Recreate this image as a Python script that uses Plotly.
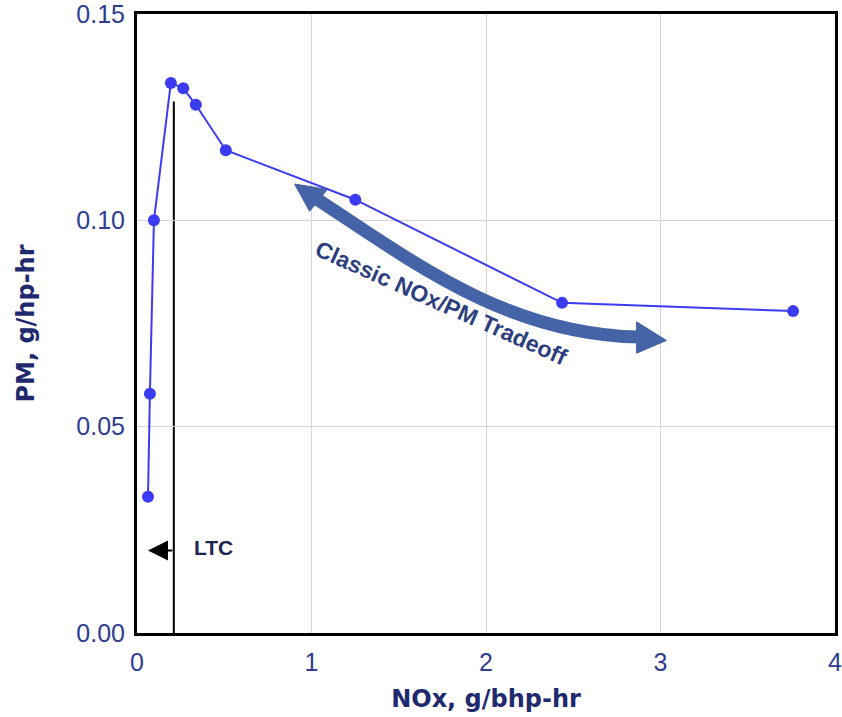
import plotly.graph_objects as go

# Measured NOx / PM points
nox = [0.063, 0.074, 0.097, 0.194, 0.265, 0.337, 0.509, 1.251, 2.436, 3.76]
pm = [0.033, 0.058, 0.100, 0.1333, 0.132, 0.128, 0.117, 0.105, 0.080, 0.078]

x_ticks = [0, 1, 2, 3, 4]
y_ticks = [0.00, 0.05, 0.10, 0.15]
y_tick_text = ["0.00", "0.05", "0.10", "0.15"]

# LTC boundary
ltc_x = 0.211
ltc_top = 0.1288
ltc_arrow_y = 0.0200
ltc_arrow_tip = 0.063

# Tradeoff arrow: cubic body (start, control 1, control 2, end) and two heads
body = [(1.0014, 0.1060), (1.619, 0.0887), (2.134, 0.0724), (2.878, 0.0717)]
head_left = [(0.903, 0.1088), (0.989, 0.1022), (1.091, 0.1075)]
head_right = [(3.034, 0.0709), (2.863, 0.0754), (2.863, 0.0678)]

AXIS_BLUE = "#2F3C8F"
TITLE_NAVY = "#1F2A6E"
LINE_BLUE = "#3B3BF2"
ARROW_BLUE = "#4564A8"

fig = go.Figure()
fig.add_trace(go.Scatter(
    x=nox, y=pm, mode="lines+markers",
    line=dict(color=LINE_BLUE, width=2),
    marker=dict(color=LINE_BLUE, size=12),
    showlegend=False, cliponaxis=False,
))

# LTC vertical line
fig.add_shape(type="line", x0=ltc_x, x1=ltc_x, y0=0, y1=ltc_top,
              line=dict(color="black", width=2), layer="below")

fig.add_annotation(x=ltc_arrow_tip, y=ltc_arrow_y, ax=ltc_x, ay=ltc_arrow_y,
                   xref="x", yref="y", axref="x", ayref="y", text="",
                   showarrow=True, arrowhead=2, arrowsize=2, arrowwidth=2,
                   arrowcolor="black")
fig.add_annotation(x=ltc_x + 0.105, y=ltc_arrow_y + 0.0008, xref="x", yref="y",
                   text="<b>LTC</b>", showarrow=False, xanchor="left",
                   font=dict(family="Liberation Sans", size=21, color="#1E2450"))

# Curved tradeoff arrow
p = body
path = (f"M {p[0][0]},{p[0][1]} "
        f"C {p[1][0]},{p[1][1]} {p[2][0]},{p[2][1]} {p[3][0]},{p[3][1]}")
fig.add_shape(type="path", path=path, line=dict(color=ARROW_BLUE, width=13))


def tri(pts):
    return "M " + " L ".join(f"{a},{b}" for a, b in pts) + " Z"


for h in (head_left, head_right):
    fig.add_shape(type="path", path=tri(h), fillcolor=ARROW_BLUE,
                  line=dict(color=ARROW_BLUE, width=1))

fig.add_annotation(x=1.745, y=0.0800, xref="x", yref="y",
                   text="<b>Classic NOx/PM Tradeoff</b>", showarrow=False,
                   textangle=24,
                   font=dict(family="Liberation Sans", size=23, color="#2E3F80"))

fig.update_layout(
    width=842, height=717,
    margin=dict(l=137, r=0, t=14, b=84),
    paper_bgcolor="white", plot_bgcolor="white",
    font=dict(family="Liberation Sans"),
    xaxis=dict(
        range=[0, 4], tickvals=x_ticks, ticktext=[str(v) for v in x_ticks],
        showgrid=True, gridcolor="#D4D4D4", gridwidth=1,
        zeroline=False, showline=True, linecolor="black", linewidth=3, mirror=True,
        ticks="", ticklabelstandoff=5, ticklabeloverflow="allow",
        tickfont=dict(size=25, color=AXIS_BLUE),
        title=dict(text="<b>NOx, g/bhp-hr</b>", standoff=16,
                   font=dict(family="DejaVu Sans", size=24, color=TITLE_NAVY)),
    ),
    yaxis=dict(
        range=[0, 0.15], tickvals=y_ticks, ticktext=y_tick_text,
        showgrid=True, gridcolor="#D4D4D4", gridwidth=1,
        zeroline=False, showline=True, linecolor="black", linewidth=3, mirror=True,
        ticks="", ticklabelstandoff=4, ticklabeloverflow="allow",
        tickfont=dict(size=25, color=AXIS_BLUE),
        title=dict(text="<b>PM, g/hp-hr</b>", standoff=35,
                   font=dict(family="DejaVu Sans", size=24, color=TITLE_NAVY)),
    ),
)

fig.write_html("out.html")
